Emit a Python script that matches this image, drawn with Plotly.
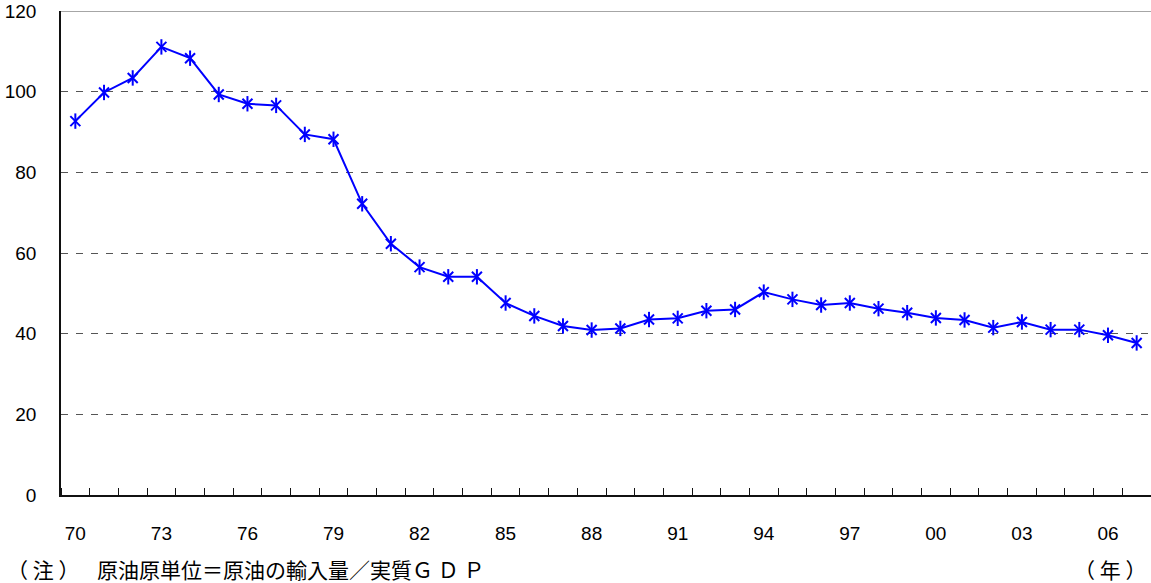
import plotly.graph_objects as go

years = list(range(1970, 2008))
values = [92.7, 99.8, 103.4, 111.1, 108.3, 99.3, 97.0, 96.6, 89.4, 88.2,
          72.2, 62.3, 56.5, 54.1, 54.1, 47.6, 44.4, 41.9, 40.9, 41.3,
          43.5, 43.8, 45.7, 46.0, 50.3, 48.5, 47.1, 47.6, 46.2, 45.2,
          43.9, 43.4, 41.5, 42.9, 41.0, 41.0, 39.6, 37.7]
label_years = list(range(1970, 2007, 3))
label_text = ["%02d" % (y % 100) for y in label_years]
y_ticks = [0, 20, 40, 60, 80, 100, 120]
note_head = "（ 注 ）"
note_body = "原油原単位＝原油の輸入量／実質Ｇ Ｄ Ｐ"
unit_text = "（ 年 ）"

W, H = 1151, 583
ML, MR, MT, MB = 61, 0, 11, 88
pw = W - ML - MR
ph = H - MT - MB

def px(x):
    return (x - ML) / pw

def py(y):
    return (H - MB - y) / ph

blue = "#0000FF"
fig = go.Figure()
fig.add_trace(go.Scatter(
    x=years, y=values, mode="lines+markers",
    line=dict(color=blue, width=2),
    marker=dict(symbol="x-thin", size=10, color=blue, line=dict(color=blue, width=2)),
    showlegend=False, hoverinfo="x+y"))
fig.add_trace(go.Scatter(
    x=years, y=values, mode="markers",
    marker=dict(symbol="line-ns", size=11, color=blue, line=dict(color=blue, width=2)),
    showlegend=False, hoverinfo="skip"))

cjk = "Noto Sans CJK JP"
fig.update_layout(
    width=W, height=H,
    margin=dict(l=ML, r=MR, t=MT, b=MB, pad=0),
    paper_bgcolor="white", plot_bgcolor="white",
    font=dict(family="Liberation Sans, Arial, sans-serif", size=19, color="black"),
    xaxis=dict(
        range=[1969.5, 2007.5], tickmode="array", tickvals=label_years, ticktext=label_text,
        ticks="", showgrid=False, zeroline=False,
        showline=True, linecolor="#111", linewidth=2,
        ticklabelstandoff=20,
        minor=dict(tickmode="linear", tick0=0.5, dtick=1, ticks="inside", ticklen=7,
                   tickwidth=1, tickcolor="#111", showgrid=False),
    ),
    yaxis=dict(
        range=[0, 120], tickmode="array", tickvals=y_ticks, ticks="",
        showgrid=True, gridcolor="#555", gridwidth=1, griddash="7px,8px",
        zeroline=False, showline=True, linecolor="#111", linewidth=1.5,
        ticklabelstandoff=19,
    ),
    shapes=[dict(type="line", xref="paper", yref="y", x0=0, x1=1, y0=120, y1=120,
                 line=dict(color="#888", width=1.5))],
    annotations=[
        dict(text=note_head, xref="paper", yref="paper", x=px(6), y=py(569),
             xanchor="left", yanchor="middle", showarrow=False, borderpad=0,
             font=dict(family=cjk, size=21, color="black")),
        dict(text=note_body, xref="paper", yref="paper", x=px(96), y=py(569),
             xanchor="left", yanchor="middle", showarrow=False, borderpad=0,
             font=dict(family=cjk, size=21, color="black")),
        dict(text=unit_text, xref="paper", yref="paper", x=px(1110), y=py(569),
             xanchor="center", yanchor="middle", showarrow=False, borderpad=0,
             font=dict(family=cjk, size=21, color="black")),
    ],
)
fig.write_html("out.html")
